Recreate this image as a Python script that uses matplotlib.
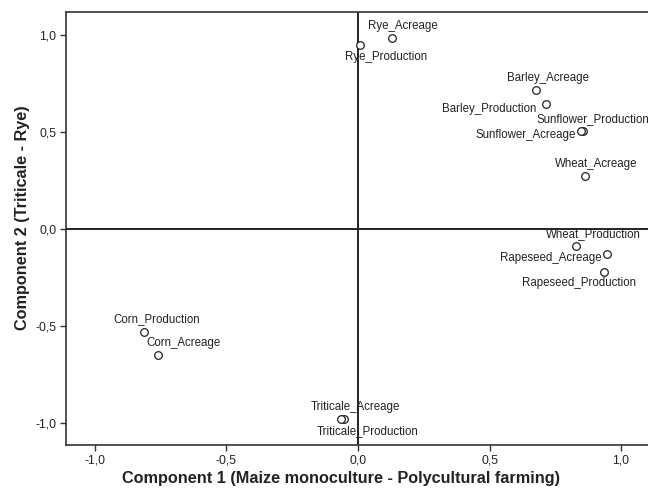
import matplotlib
matplotlib.use("Agg")
import matplotlib.pyplot as plt
from matplotlib.ticker import FuncFormatter

plt.rcParams["font.family"] = ["Liberation Sans", "DejaVu Sans"]

# component loadings
names = [
    "Rye_Acreage", "Rye_Production",
    "Barley_Acreage", "Barley_Production",
    "Sunflower_Production", "Sunflower_Acreage",
    "Wheat_Acreage", "Wheat_Production",
    "Rapeseed_Acreage", "Rapeseed_Production",
    "Corn_Production", "Corn_Acreage",
    "Triticale_Acreage", "Triticale_Production",
]
comp1 = [0.130, 0.006, 0.676, 0.716, 0.857, 0.846, 0.863, 0.827,
         0.946, 0.937, -0.812, -0.762, -0.054, -0.063]
comp2 = [0.980, 0.947, 0.713, 0.641, 0.503, 0.503, 0.274, -0.087,
         -0.131, -0.225, -0.529, -0.649, -0.977, -0.977]

# label placement (pixel offsets from the marker, alignment)
label_pos = {
    "Rye_Acreage": (11, 12, "center", "center"),
    "Rye_Production": (26, -12, "center", "center"),
    "Barley_Acreage": (12, 12.5, "center", "center"),
    "Barley_Production": (-10, -4.5, "right", "center"),
    "Sunflower_Production": (-47, 12.5, "left", "center"),
    "Sunflower_Acreage": (-5, -4, "right", "center"),
    "Wheat_Acreage": (11, 11.5, "center", "center"),
    "Wheat_Production": (18, 11.5, "center", "center"),
    "Rapeseed_Acreage": (-5, -4, "right", "center"),
    "Rapeseed_Production": (-25, -11, "center", "center"),
    "Corn_Production": (12, 12, "center", "center"),
    "Corn_Acreage": (25.5, 12, "center", "center"),
    "Triticale_Acreage": (12, 12, "center", "center"),
    "Triticale_Production": (26.5, -12, "center", "center"),
}

W, H = 648, 493
fig = plt.figure(figsize=(W / 100, H / 100), dpi=100)
# right edge of the frame falls just outside the picture, as in the source
ax = fig.add_axes([66 / W, (H - 445) / H, (650 - 66) / W, (445 - 12) / H])

ax.set_xlim(-1.11, 1.11)
ax.set_ylim(-1.113, 1.116)

ax.axhline(0, color="#222222", lw=1.4, zorder=1)
ax.axvline(0, color="#222222", lw=1.4, zorder=1)

ax.plot(comp1, comp2, "o", ms=5.5, mfc="white", mec="#222222", mew=0.9,
        ls="none", zorder=3)

PX = 72 / 100
for name, x, y in zip(names, comp1, comp2):
    dx, dy, ha, va = label_pos[name]
    ax.annotate(name, (x, y), xytext=(dx * PX, dy * PX),
                textcoords="offset points", ha=ha, va=va,
                fontsize=8.3, color="#222222", zorder=4)

ticks = [-1.0, -0.5, 0.0, 0.5, 1.0]
ax.set_xticks(ticks)
ax.set_yticks(ticks)
fmt = FuncFormatter(lambda v, p: f"{v:.1f}".replace(".", ",").replace("-0,0", "0,0"))
ax.xaxis.set_major_formatter(fmt)
ax.yaxis.set_major_formatter(fmt)
ax.tick_params(direction="out", length=4, width=1, color="#333333",
               labelsize=8.7, labelcolor="#222222", pad=3)

for side in ["top", "left", "bottom", "right"]:
    ax.spines[side].set_color("#333333")
    ax.spines[side].set_linewidth(1.2)

ax.set_xlabel("Component 1 (Maize monoculture - Polycultural farming)",
              fontsize=11.7, fontweight="bold", color="#222222")
ax.set_ylabel("Component 2 (Triticale - Rye)",
              fontsize=11.7, fontweight="bold", color="#222222")
ax.xaxis.set_label_coords((341 - 66) / 584, -(471 - 445) / 433)
ax.yaxis.set_label_coords(-(66 - 30) / 584, (445 - 218) / 433)

fig.savefig("out.png", dpi=100, facecolor="white")
